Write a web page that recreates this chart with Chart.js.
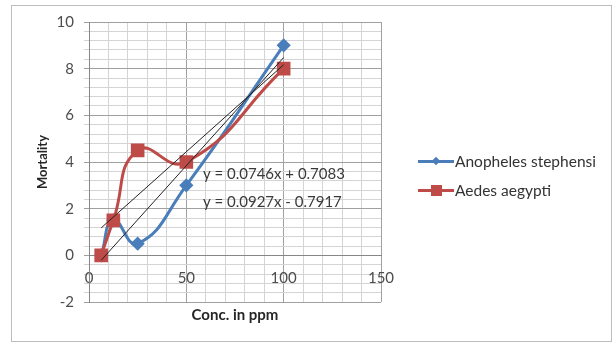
<!DOCTYPE html>
<html>
<head>
<meta charset="utf-8">
<title>Mortality vs concentration</title>
<script src="https://cdn.jsdelivr.net/npm/chart.js@4.4.1/dist/chart.umd.min.js"></script>
<style>
  html, body { margin: 0; padding: 0; background: #fff; }
  #wrap { position: relative; width: 615px; height: 346px; }
  #frame { position: absolute; left: 11px; top: 5px; width: 601px; height: 337px;
           border: 1px solid #bdbdbd; box-sizing: border-box; }
  #chart { position: absolute; left: 0; top: 0; }
  #legend { position: absolute; left: 418px; top: 146px; font: 15.5px Lato, sans-serif; color: #333; }
  .item { display: flex; align-items: center; height: 29px; }
  .swatch { position: relative; width: 36px; height: 14px; margin-right: 1px; }
  .swatch .ln { position: absolute; left: 0; right: 0; top: 6px; height: 3px; }
  .swatch .mk { position: absolute; }
</style>
</head>
<body>
<div id="wrap">
  <div id="frame"></div>
  <canvas id="chart" width="615" height="346"></canvas>
  <div id="legend"></div>
</div>
<script>
// concentrations (ppm) and mortality counts
const concentrations = [6.25, 12.5, 25, 50, 100];
const anophelesMortality = [0, 1.5, 0.5, 3, 9];
const aedesMortality = [0, 1.5, 4.5, 4, 8];
const seriesNames = ['Anopheles stephensi', 'Aedes aegypti'];

// linear trendlines: [slope, intercept]
const anophelesFit = [0.0927, -0.7917];
const aedesFit = [0.0746, 0.7083];

// labelled ticks
const xTickLabels = [0, 50, 100, 150];
const yTickLabels = [-2, 0, 2, 4, 6, 8, 10];

const blue = '#4a7ebb';
const red = '#be4b48';
const majorGrid = '#a0a0a0';
const minorGrid = '#d4d4d4';
const fontFamily = 'Lato, sans-serif';

function points(ys) {
  return concentrations.map((x, i) => ({ x: x, y: ys[i] }));
}

function trendPoints(fit) {
  const xs = [concentrations[0], concentrations[concentrations.length - 1]];
  return xs.map(x => ({ x: x, y: fit[0] * x + fit[1] }));
}

function equation(fit) {
  const sign = fit[1] < 0 ? '- ' : '+ ';
  return 'y = ' + fit[0].toFixed(4) + 'x ' + sign + Math.abs(fit[1]).toFixed(4);
}

// minor gridlines every `step`, labels only on the listed values
function minorTicks(min, max, step) {
  const ticks = [];
  for (let v = min; v <= max + 1e-9; v += step) ticks.push({ value: Math.round(v * 100) / 100 });
  return ticks;
}

// regression equations written inside the plot
const equationLabels = {
  id: 'equationLabels',
  afterDatasetsDraw(chart) {
    const { ctx, scales } = chart;
    ctx.save();
    ctx.font = '15px ' + fontFamily;
    ctx.fillStyle = '#3a3a3a';
    ctx.textBaseline = 'middle';
    ctx.fillText(equation(aedesFit), scales.x.getPixelForValue(58.5), scales.y.getPixelForValue(3.5));
    ctx.fillText(equation(anophelesFit), scales.x.getPixelForValue(58.5), scales.y.getPixelForValue(2.3));
    ctx.restore();
  }
};

const chart = new Chart(document.getElementById('chart'), {
  type: 'scatter',
  data: {
    datasets: [
      {
        label: seriesNames[0],
        data: points(anophelesMortality),
        showLine: true,
        tension: 0.5,
        borderColor: blue,
        backgroundColor: blue,
        borderWidth: 3,
        pointStyle: 'rectRot',
        pointRadius: 5,
        order: 2
      },
      {
        label: seriesNames[1],
        data: points(aedesMortality),
        showLine: true,
        tension: 0.5,
        borderColor: red,
        backgroundColor: red,
        borderWidth: 3,
        pointStyle: 'rect',
        pointRadius: 7.5,
        order: 1
      },
      {
        label: 'trend',
        data: trendPoints(anophelesFit),
        showLine: true,
        borderColor: '#222',
        borderWidth: 1,
        pointRadius: 0,
        order: 0
      },
      {
        label: 'trend',
        data: trendPoints(aedesFit),
        showLine: true,
        borderColor: '#222',
        borderWidth: 1,
        pointRadius: 0,
        order: 0
      }
    ]
  },
  options: {
    responsive: false,
    animation: false,
    layout: { padding: { left: 12, top: 22, right: 234, bottom: 0 } },
    plugins: {
      legend: { display: false },
      tooltip: { enabled: false }
    },
    scales: {
      x: {
        type: 'linear',
        position: { y: 0 },
        min: 0,
        max: 150,
        afterBuildTicks: s => { s.ticks = minorTicks(0, 150, 10); },
        grid: {
          color: c => xTickLabels.includes(c.tick.value) ? majorGrid : minorGrid,
          tickLength: 5
        },
        border: { color: '#868686' },
        ticks: {
          padding: 9,
          color: '#4d4d4d',
          font: { family: fontFamily, size: 15 },
          maxRotation: 0,
          autoSkip: false,
          callback: v => xTickLabels.includes(v) ? String(v) : ''
        }
      },
      xTitle: {
        type: 'linear',
        axis: 'x',
        position: 'bottom',
        afterFit: s => { s.height = 44; },
        grid: { display: false },
        border: { display: false },
        ticks: { display: false },
        title: {
          display: true,
          text: 'Conc. in ppm',
          color: '#262626',
          font: { family: fontFamily, size: 15, weight: 'bold' },
          padding: { top: 0, bottom: 22 }
        }
      },
      y: {
        type: 'linear',
        position: 'left',
        min: -2,
        max: 10,
        afterBuildTicks: s => { s.ticks = minorTicks(-2, 10, 0.4); },
        afterFit: s => { s.width = 77; },
        grid: {
          color: c => yTickLabels.includes(c.tick.value) ? majorGrid : minorGrid,
          tickLength: 5
        },
        border: { color: '#868686' },
        ticks: {
          padding: 10,
          color: '#4d4d4d',
          font: { family: fontFamily, size: 15 },
          autoSkip: false,
          callback: v => yTickLabels.includes(v) ? String(v) : ''
        },
        title: {
          display: true,
          text: 'Mortality',
          color: '#262626',
          font: { family: fontFamily, size: 13, weight: 'bold' },
          padding: { top: 23, bottom: 0 }
        }
      }
    }
  },
  plugins: [equationLabels]
});

// legend beside the plot: line with the series marker on it
const legend = document.getElementById('legend');
chart.data.datasets.slice(0, 2).forEach(ds => {
  const item = document.createElement('div');
  item.className = 'item';
  const sw = document.createElement('div');
  sw.className = 'swatch';
  const ln = document.createElement('div');
  ln.className = 'ln';
  ln.style.background = ds.borderColor;
  const mk = document.createElement('div');
  mk.className = 'mk';
  mk.style.background = ds.borderColor;
  if (ds.pointStyle === 'rectRot') {
    mk.style.width = '6px'; mk.style.height = '6px';
    mk.style.left = '15px'; mk.style.top = '4.5px';
    mk.style.transform = 'rotate(45deg)';
  } else {
    mk.style.width = '11px'; mk.style.height = '11px';
    mk.style.left = '12.5px'; mk.style.top = '2px';
  }
  sw.appendChild(ln);
  sw.appendChild(mk);
  const txt = document.createElement('span');
  txt.textContent = ds.label;
  item.appendChild(sw);
  item.appendChild(txt);
  legend.appendChild(item);
});
</script>
</body>
</html>
